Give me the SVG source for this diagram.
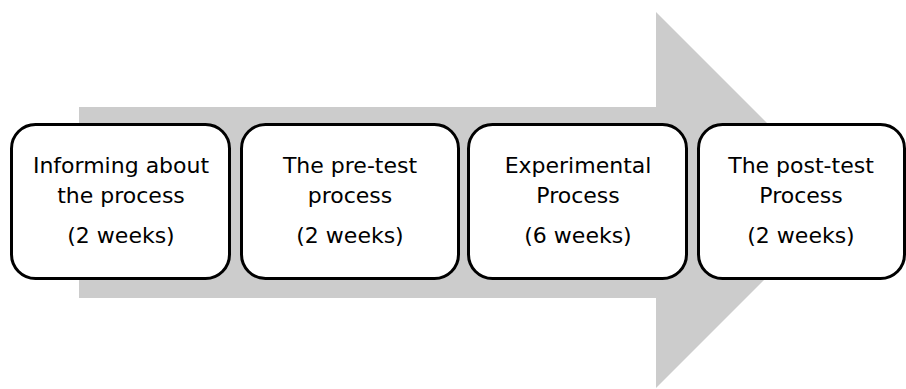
<svg xmlns="http://www.w3.org/2000/svg" width="906" height="389" viewBox="0 0 906 389">
<style>
.box{fill:#fff;stroke:#000;stroke-width:3}
.t{font-family:"DejaVu Sans",sans-serif;font-size:22px;fill:#000;text-anchor:middle}
</style>
<rect width="906" height="389" fill="#fff"/>
<g id="arrow">
<polygon points="79,107 656,107 656,12 844,200 656,388 656,298 79,298" fill="#cccccc"/>
</g>
<g id="connectors"></g>
<g id="n1">
<rect class="box" x="11.5" y="124.5" width="218" height="154" rx="24"/>
<text class="t" x="121" y="173">Informing about</text>
<text class="t" x="121" y="203">the process</text>
<text class="t" x="121" y="243">(2 weeks)</text>
</g>
<g id="n2">
<rect class="box" x="241.5" y="124.5" width="217" height="154" rx="24"/>
<text class="t" x="350" y="173">The pre-test</text>
<text class="t" x="350" y="203">process</text>
<text class="t" x="350" y="243">(2 weeks)</text>
</g>
<g id="n3">
<rect class="box" x="468.5" y="124.5" width="218" height="154" rx="24"/>
<text class="t" x="578" y="173">Experimental</text>
<text class="t" x="578" y="203">Process</text>
<text class="t" x="578" y="243">(6 weeks)</text>
</g>
<g id="n4">
<rect class="box" x="698.5" y="124.5" width="206" height="154" rx="24"/>
<text class="t" x="801" y="173">The post-test</text>
<text class="t" x="801" y="203">Process</text>
<text class="t" x="801" y="243">(2 weeks)</text>
</g>
</svg>
